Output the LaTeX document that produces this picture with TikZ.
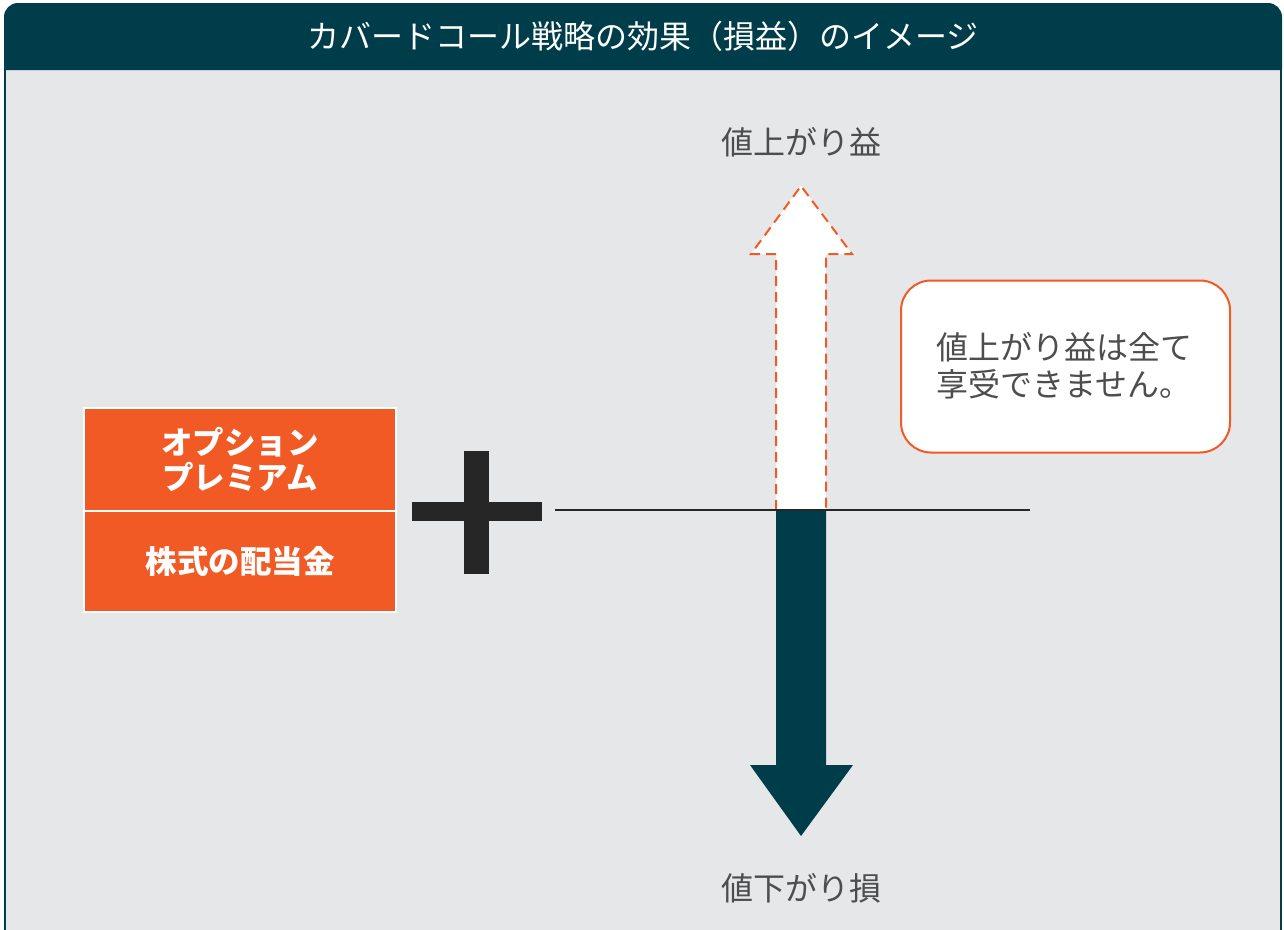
\documentclass[tikz,border=0pt]{standalone}
\usepackage{fontspec}
\setmainfont{Noto Sans CJK JP}
\definecolor{teal}{HTML}{003D4A}
\definecolor{bgc}{HTML}{E6E7E9}
\definecolor{orng}{HTML}{F15A24}
\definecolor{txtg}{HTML}{4D4D4D}
\definecolor{plusc}{HTML}{262626}
\tikzset{
  lbl/.style={text=txtg, font=\fontsize{32}{38}\selectfont, inner sep=0pt},
  obox/.style={fill=orng, draw=white, line width=2pt, minimum width=312pt, text=white, font=\fontsize{31.5}{38}\selectfont\bfseries, align=center, inner sep=0pt},
}
\begin{document}
\begin{tikzpicture}[x=1pt,y=-1pt]
\useasboundingbox (0,0) rectangle (1284,929);
% body
\fill[bgc] (5,70) rectangle (1281,935);
\draw[teal, line width=2.5pt] (5,60) -- (5,935);
\draw[teal, line width=2.5pt] (1281,60) -- (1281,935);
% header
\fill[teal] (4,70) [rounded corners=14pt] -- (4,3) -- (1282,3) [sharp corners] -- (1282,70) -- cycle;
\node[text=white, font=\fontsize{32}{38}\selectfont, inner sep=0pt] (title) at (643,36) {カバードコール戦略の効果（損益）のイメージ};
% up arrow (dashed)
\fill[white] (776,510) -- (776,254) -- (751,254) -- (801,186) -- (852,254) -- (826,254) -- (826,510) -- cycle;
\draw[orng, line width=2pt, dash pattern=on 10pt off 6pt] (776,510) -- (776,254) -- (751,254) -- (801,186) -- (852,254) -- (826,254) -- (826,510);
% down arrow
\fill[teal] (776,510) -- (776,765) -- (750,765) -- (801,836) -- (853,765) -- (826,765) -- (826,510) -- cycle;
% horizontal axis
\coordinate (axL) at (555,510);
\coordinate (axR) at (1030,510);
\draw[plusc, line width=2pt] (axL) -- (axR);
% labels
\node[lbl] (up) at (801,142) {値上がり益};
\node[lbl] (down) at (801,888) {値下がり損};
% callout
\node[draw=orng, fill=white, line width=2pt, rounded corners=30pt, minimum width=329pt, minimum height=172pt, inner sep=0pt] (call) at (1065.5,366.5) {};
\node[lbl, align=left, anchor=west, font=\fontsize{32}{37}\selectfont] (calltext) at (936,366) {値上がり益は全て\\享受できません。};
% orange boxes
\node[obox, minimum height=103pt, anchor=north west] (opt) at (83,407) {オプション\\[-3pt]プレミアム};
\node[obox, minimum height=101pt, anchor=north west] (div) at (83,510) {株式の配当金};
% plus
\fill[plusc] (464,451) rectangle (489,574);
\fill[plusc] (412,502) rectangle (542,521);
\end{tikzpicture}
\end{document}
